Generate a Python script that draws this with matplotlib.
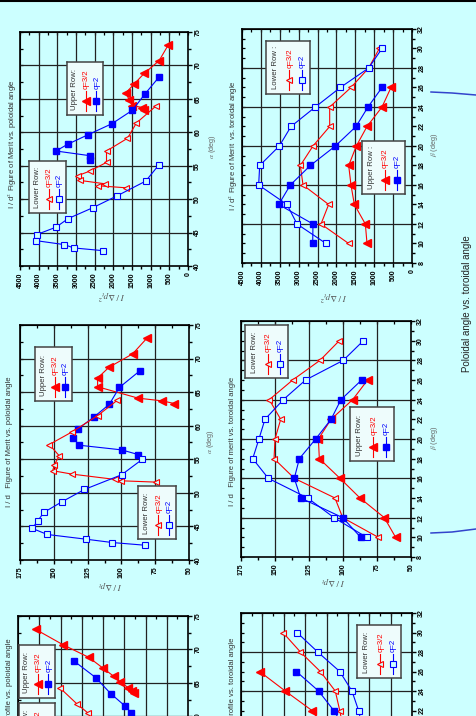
import numpy as np
import matplotlib
matplotlib.use("Agg")
import matplotlib.pyplot as plt
from matplotlib.ticker import MultipleLocator, NullFormatter

W, H = 476, 716
BG = "#ccffff"
RED = "#ff0000"
BLUE = "#0000ff"

plt.rcParams["font.family"] = ["Liberation Sans", "DejaVu Sans"]
plt.rcParams["mathtext.fontset"] = "stix"

# ---------------- data ----------------
# top left: I/d^2 figure of merit vs poloidal angle (alpha, deg)
tl_up32_a = [73.0, 70.7, 68.8, 67.2, 65.9, 64.9, 64.0, 63.7, 63.4]
tl_up32_v = [535, 775, 1176, 1444, 1666, 1577, 1488, 1221, 1185]
tl_up2_a = [68.2, 65.7, 63.3, 61.3, 59.6, 58.2, 57.2, 56.5, 55.8]
tl_up2_v = [784, 1158, 1488, 2032, 2691, 3226, 3537, 2629, 2629]
tl_lo32_a = [63.9, 61.4, 59.1, 57.2, 55.5, 54.2, 53.5, 52.8, 52.3, 52.0, 51.7]
tl_lo32_v = [864, 1381, 1621, 2183, 2183, 2629, 2958, 2896, 2228, 2406, 1666]
tl_lo2_a = [55.1, 52.7, 50.5, 48.7, 47.1, 45.8, 44.7, 43.8, 43.2, 42.7, 42.3]
tl_lo2_v = [784, 1132, 1898, 2557, 3208, 3537, 4054, 4081, 3315, 3057, 2289]

# top right: I/d^2 figure of merit vs toroidal angle (beta, deg)
beta = [30, 28, 26, 24, 22, 20, 18, 16, 14, 12, 10]
beta_up = [26, 24, 22, 20, 18, 16, 14, 12, 10]
tr_lo32_v = [865, 1147, 1615, 2179, 2179, 2621, 2956, 2885, 2206, 2409, 1676]
tr_lo2_v = [794, 1147, 1897, 2559, 3203, 3512, 4032, 4059, 3309, 3044, 2276]
tr_up32_v = [556, 794, 1191, 1474, 1676, 1615, 1526, 1235, 1191]
tr_up2_v = [794, 1165, 1482, 2029, 2691, 3221, 3529, 2621, 2629]

# middle left: I/d figure of merit vs poloidal angle
ml_up32_a = [73.0, 70.7, 68.7, 67.1, 65.8, 64.1, 63.7, 63.3]
ml_up32_v = [81.3, 91.7, 109.2, 117.6, 117.6, 87.5, 69.7, 60.8]
ml_up2_a = [68.2, 65.7, 63.2, 61.3, 59.5, 58.2, 57.1, 56.4, 55.7]
ml_up2_v = [86.2, 101.5, 108.9, 120.3, 132.3, 135.5, 131.4, 99.8, 87.5]
ml_lo32_a = [63.8, 61.5, 59.1, 57.2, 55.5, 54.2, 53.3, 52.8, 52.0, 51.8, 51.6]
ml_lo32_v = [103.0, 117.6, 136.3, 153.3, 145.9, 149.6, 150.8, 136.8, 104.7, 100.5, 74.4]
ml_lo2_a = [55.0, 52.7, 50.5, 48.7, 47.1, 45.8, 44.7, 43.8, 43.1, 42.6, 42.2]
ml_lo2_v = [84.5, 99.8, 127.4, 143.7, 157.3, 162.0, 165.9, 154.8, 126.2, 106.7, 82.5]

# middle right: I/d figure of merit vs toroidal angle
mr_lo32_v = [102.7, 116.9, 137.0, 154.2, 145.8, 150.0, 150.7, 135.8, 105.9, 100.2, 74.0]
mr_lo2_v = [85.0, 99.8, 127.5, 143.9, 157.4, 161.8, 166.4, 154.9, 126.0, 106.6, 82.6]
mr_up32_v = [81.9, 92.9, 108.8, 118.1, 117.4, 102.2, 87.5, 69.6, 61.3]
mr_up2_v = [86.3, 101.5, 108.8, 120.1, 132.1, 135.8, 131.1, 100.2, 87.0]

# bottom row (only the top part is on the page)
bl_up32_a = [73.0, 70.7, 68.8, 67.2, 66.0, 65.1, 64.3, 63.8, 63.5]
bl_up32_v = [7.17, 5.88, 4.66, 4.00, 3.50, 3.18, 2.82, 2.62, 2.56]
bl_up2_a = [68.3, 65.8, 63.4, 61.5, 60.5, 59.5]
bl_up2_v = [5.38, 4.35, 3.64, 2.95, 2.67, 2.40]
bl_lo32_a = [64.2, 61.8, 60.5, 59.0]
bl_lo32_v = [6.01, 5.21, 4.71, 4.30]
br_beta = [30, 28, 26, 24, 22, 20]
br_beta_up = [26, 24, 22, 20]
br_lo32_v = [6.04, 5.22, 4.29, 3.59, 3.38, 3.20]
br_lo2_v = [5.38, 4.41, 3.38, 2.81, 2.50, 2.30]
br_up32_v = [7.13, 5.93, 4.68, 4.00]
br_up2_v = [5.41, 4.37, 3.66, 3.10]

# fragments of the next chart at the right page edge (pixels)
frag1_x = [431, 452, 476]
frag1_y = [92, 93, 95]
frag2_x = [431, 452, 476]
frag2_y = [533, 532, 529]

S_UP32 = dict(color=RED, marker="<", ms=5.4, mfc=RED, mec=RED, lw=0.8)
S_UP2 = dict(color=BLUE, marker="s", ms=4.2, mfc=BLUE, mec=BLUE, lw=0.8)
S_LO32 = dict(color=RED, marker="<", ms=4.8, mfc=BG, mec=RED, mew=0.8, lw=0.8)
S_LO2 = dict(color=BLUE, marker="s", ms=3.8, mfc=BG, mec=BLUE, mew=0.8, lw=0.8)

fig = plt.figure(figsize=(W / 100, H / 100), dpi=100, facecolor=BG)


def px_axes(x0, y0, x1, y1):
    return fig.add_axes([x0 / W, 1 - y1 / H, (x1 - x0) / W, (y1 - y0) / H])


def ftext(x, y, s, **kw):
    fig.text(x / W, 1 - y / H, s, **kw)


def panel(box, xlim, xmaj, ylim, ymaj, ymin, xgrid, ygrid, series):
    ax = px_axes(*box)
    ax.set_facecolor(BG)
    for g in xgrid:
        ax.axvline(g, color="#222222", lw=0.9, zorder=1)
    for g in ygrid:
        ax.axhline(g, color="#222222", lw=0.9, zorder=1)
    for v, a, st in series:
        ax.plot(v, a, zorder=3, **st)
    ax.set_xlim(*xlim)
    ax.set_ylim(*ylim)
    ax.xaxis.set_major_locator(MultipleLocator(xmaj))
    ax.xaxis.set_minor_locator(MultipleLocator(xmaj / 2))
    ax.yaxis.set_major_locator(MultipleLocator(ymaj))
    ax.yaxis.set_minor_locator(MultipleLocator(ymin))
    ax.yaxis.tick_right()
    ax.tick_params(which="both", direction="out", width=1.0, labelsize=5.0,
                   pad=1.5)
    ax.tick_params(which="major", length=3)
    ax.tick_params(which="minor", length=1.8)
    for lab in ax.get_xticklabels() + ax.get_yticklabels():
        lab.set_rotation(90)
        lab.set_fontweight("bold")
    for lab in ax.get_yticklabels():
        lab.set_verticalalignment("center")
    for s in ax.spines.values():
        s.set_linewidth(1.2)
    top = ax.secondary_xaxis("top")
    top.xaxis.set_major_locator(MultipleLocator(xmaj))
    top.xaxis.set_minor_locator(MultipleLocator(xmaj / 2))
    top.xaxis.set_major_formatter(NullFormatter())
    top.tick_params(which="both", direction="in", width=0.9, length=2)
    left = ax.secondary_yaxis("left")
    left.yaxis.set_major_locator(MultipleLocator(ymaj))
    left.yaxis.set_minor_locator(MultipleLocator(ymin))
    left.yaxis.set_major_formatter(NullFormatter())
    left.tick_params(which="both", direction="in", width=0.9, length=2)
    return ax


def legend_box(x0, y0, x1, y1, title, entries):
    lg = px_axes(x0, y0, x1, y1)
    w, h = x1 - x0, y1 - y0
    lg.set_xlim(0, w)
    lg.set_ylim(h, 0)
    lg.set_xticks([])
    lg.set_yticks([])
    lg.set_facecolor("#eefcfc")
    for s in lg.spines.values():
        s.set_edgecolor("#444444")
        s.set_linewidth(1.1)
    lg.text(0.22 * w, h - 5, title, rotation=90, ha="center", va="bottom",
            fontsize=5.6, color="#333333")
    for cx, (lab, st) in zip([0.53 * w, 0.81 * w], entries):
        lg.plot([cx, cx], [h - 4, h - 24], color=st["color"], lw=0.8)
        lg.plot([cx], [h - 14], **st)
        lg.text(cx + 0.5, h - 26, lab, rotation=90, ha="center", va="bottom",
                fontsize=5.6, color=st["color"])


ALPHA_GRID = [45, 50, 55, 60, 65, 70]
BETA_GRID = [12, 16, 20, 24, 28]

# top left
panel((20, 32, 188, 266), (4500, 0), 500, (40, 75), 5, 2.5,
      list(range(500, 4500, 500)), ALPHA_GRID,
      [(tl_up32_v, tl_up32_a, S_UP32), (tl_up2_v, tl_up2_a, S_UP2),
       (tl_lo32_v, tl_lo32_a, S_LO32), (tl_lo2_v, tl_lo2_a, S_LO2)])
# top right
panel((242, 29, 412, 263), (4500, 0), 500, (8, 32), 2, 1,
      list(range(500, 4500, 500)), BETA_GRID,
      [(tr_lo32_v, beta, S_LO32), (tr_lo2_v, beta, S_LO2),
       (tr_up32_v, beta_up, S_UP32), (tr_up2_v, beta_up, S_UP2)])
# middle left
panel((20, 325, 189, 560), (175, 50), 25, (40, 75), 5, 2.5,
      [75, 100, 125, 150], ALPHA_GRID,
      [(ml_up32_v, ml_up32_a, S_UP32), (ml_up2_v, ml_up2_a, S_UP2),
       (ml_lo32_v, ml_lo32_a, S_LO32), (ml_lo2_v, ml_lo2_a, S_LO2)])
# middle right
panel((241, 321, 411, 557), (175, 50), 25, (8, 32), 2, 1,
      [75, 100, 125, 150], BETA_GRID,
      [(mr_lo32_v, beta, S_LO32), (mr_lo2_v, beta, S_LO2),
       (mr_up32_v, beta_up, S_UP32), (mr_up2_v, beta_up, S_UP2)])
# bottom left
panel((18, 616, 188, 850), (8, 0), 1, (40, 75), 5, 2.5,
      list(range(1, 8)), ALPHA_GRID,
      [(bl_up32_v, bl_up32_a, S_UP32), (bl_up2_v, bl_up2_a, S_UP2),
       (bl_lo32_v, bl_lo32_a, S_LO32)])
# bottom right
panel((241, 613, 412, 847), (8, 0), 1, (8, 32), 2, 1,
      list(range(1, 8)), BETA_GRID,
      [(br_lo32_v, br_beta, S_LO32), (br_lo2_v, br_beta, S_LO2),
       (br_up32_v, br_beta_up, S_UP32), (br_up2_v, br_beta_up, S_UP2)])

# axis labels
LBL = dict(color="#666666", fontsize=5.2, rotation=90, ha="center", va="center")
ftext(212, 147, r"$\alpha$ (deg)", **LBL)
ftext(435, 145, r"$\beta$ (deg)", **LBL)
ftext(210, 442, r"$\alpha$ (deg)", **LBL)
ftext(434, 438, r"$\beta$ (deg)", **LBL)
YL = dict(color="#555555", fontsize=6.5, rotation=180, ha="center",
          va="center", family="serif")
ftext(111, 295, r"$I\ /\ \Delta p_t^{\,2}$", **YL)
ftext(333, 296, r"$I\ /\ \Delta p_t^{\,2}$", **YL)
ftext(110, 585, r"$I\ /\ \Delta p_t$", **YL)
ftext(333, 581, r"$I\ /\ \Delta p_t$", **YL)

# panel titles
TT = dict(color="#333333", fontsize=5.5, rotation=90, ha="center", va="center")
ftext(12, 144, r"I / d$^2$ Figure of Merit vs. poloidal angle", **TT)
ftext(233, 146, r"I / d$^2$ Figure of Merit  vs. toroidal angle", **TT)
ftext(10, 442, "I / d   Figure of Merit vs. poloidal angle", **TT)
ftext(233, 441, "I / d   Figure of merit vs. toroidal angle", **TT)
TB = dict(TT, va="top")
ftext(10, 638, "I / d  Profile vs. poloidal angle", **TB)
ftext(233, 638, "I / d  Profile vs. toroidal angle", **TB)

# legends
UP = [("q=3/2", S_UP32), ("q=2", S_UP2)]
LO = [("q=3/2", S_LO32), ("q=2", S_LO2)]
legend_box(67, 62, 103, 115, "Upper Row:", UP)
legend_box(29, 161, 66, 213, "Lower Row:", LO)
legend_box(266, 41, 310, 94, "Lower Row :", LO)
legend_box(362, 141, 405, 194, "Upper Row :", UP)
legend_box(35, 347, 72, 401, "Upper Row:", UP)
legend_box(138, 486, 176, 539, "Lower Row:", LO)
legend_box(245, 325, 288, 378, "Lower Row:", LO)
legend_box(350, 407, 394, 461, "Upper Row:", UP)
legend_box(19, 645, 55, 698, "Upper Row:", UP)
legend_box(19, 703, 55, 756, "Lower Row:", LO)
legend_box(357, 625, 401, 678, "Lower Row:", LO)

# page overlay: top border, right-edge fragments and caption
ov = fig.add_axes([0, 0, 1, 1], facecolor="none")
ov.set_xlim(0, W)
ov.set_ylim(H, 0)
ov.axis("off")
ov.plot([0, W], [1, 1], color="black", lw=1.5)
ov.plot(frag1_x, frag1_y, color="#3344cc", lw=1.1)
ov.plot(frag2_x, frag2_y, color="#3344cc", lw=1.1)
ftext(467, 304, "Poloidal angle vs. toroidal angle", color="#222222",
      fontsize=7.0, rotation=90, ha="center", va="center")

fig.savefig("out.png", dpi=100, facecolor=BG)
